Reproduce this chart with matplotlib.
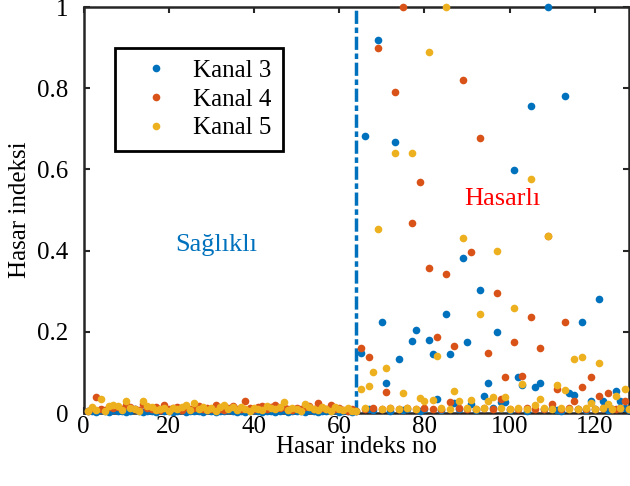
import numpy as np
import matplotlib
matplotlib.use("Agg")
import matplotlib.pyplot as plt

plt.rcParams["font.family"] = ["Liberation Serif", "DejaVu Serif"]
plt.rcParams["lines.scale_dashes"] = False

# hasar indeksleri, kanal basina 128 olcum (1..64 saglikli, 65..128 hasarli)
index_no = np.arange(1, 129)

kanal3 = [
    0.004, 0.006, 0.003, 0.008, 0.005, 0.002, 0.007, 0.004, 0.006, 0.003, 0.005, 0.009, 0.004, 0.002, 0.006, 0.005,
    0.003, 0.007, 0.004, 0.006, 0.002, 0.005, 0.008, 0.003, 0.004, 0.006, 0.005, 0.002, 0.007, 0.004, 0.003, 0.006,
    0.005, 0.008, 0.004, 0.003, 0.006, 0.002, 0.005, 0.007, 0.004, 0.003, 0.006, 0.005, 0.002, 0.004, 0.007, 0.003,
    0.005, 0.006, 0.004, 0.002, 0.008, 0.005, 0.003, 0.006, 0.004, 0.005, 0.007, 0.003, 0.004, 0.006, 0.002, 0.005,
    0.147, 0.682, 0.010, 0.008, 0.918, 0.225, 0.073, 0.006, 0.668, 0.132, 0.008, 0.010, 0.177, 0.204, 0.006, 0.009,
    0.181, 0.146, 0.035, 0.007, 0.245, 0.145, 0.025, 0.010, 0.381, 0.175, 0.023, 0.008, 0.302, 0.043, 0.073, 0.013,
    0.200, 0.028, 0.028, 0.008, 0.598, 0.089, 0.068, 0.006, 0.755, 0.063, 0.075, 0.009, 1.000, 0.012, 0.008, 0.006,
    0.780, 0.049, 0.044, 0.010, 0.225, 0.007, 0.030, 0.009, 0.282, 0.030, 0.008, 0.010, 0.055, 0.030, 0.012, 0.008,
]
kanal4 = [
    0.006, 0.012, 0.040, 0.010, 0.008, 0.014, 0.012, 0.016, 0.010, 0.020, 0.015, 0.010, 0.008, 0.022, 0.012, 0.010,
    0.014, 0.008, 0.020, 0.010, 0.012, 0.016, 0.008, 0.015, 0.010, 0.012, 0.017, 0.009, 0.012, 0.010, 0.020, 0.011,
    0.008, 0.012, 0.018, 0.010, 0.009, 0.030, 0.012, 0.010, 0.014, 0.018, 0.010, 0.016, 0.020, 0.012, 0.015, 0.010,
    0.008, 0.012, 0.010, 0.014, 0.018, 0.010, 0.025, 0.012, 0.010, 0.020, 0.009, 0.012, 0.008, 0.005, 0.010, 0.006,
    0.159, 0.010, 0.139, 0.012, 0.900, 0.010, 0.051, 0.012, 0.790, 0.011, 1.000, 0.012, 0.468, 0.010, 0.569, 0.012,
    0.357, 0.011, 0.188, 0.010, 0.342, 0.027, 0.165, 0.012, 0.820, 0.011, 0.396, 0.010, 0.677, 0.012, 0.149, 0.010,
    0.295, 0.035, 0.089, 0.011, 0.175, 0.010, 0.091, 0.012, 0.237, 0.010, 0.160, 0.011, 0.437, 0.022, 0.060, 0.010,
    0.225, 0.012, 0.030, 0.010, 0.064, 0.011, 0.088, 0.010, 0.042, 0.012, 0.050, 0.010, 0.011, 0.012, 0.030, 0.010,
]
kanal5 = [
    0.005, 0.015, 0.008, 0.034, 0.006, 0.018, 0.020, 0.018, 0.008, 0.030, 0.012, 0.010, 0.006, 0.030, 0.018, 0.016,
    0.008, 0.010, 0.012, 0.006, 0.012, 0.010, 0.014, 0.020, 0.008, 0.025, 0.010, 0.016, 0.008, 0.012, 0.006, 0.014,
    0.020, 0.010, 0.014, 0.008, 0.016, 0.010, 0.006, 0.012, 0.010, 0.008, 0.018, 0.012, 0.010, 0.014, 0.027, 0.008,
    0.012, 0.010, 0.006, 0.022, 0.015, 0.010, 0.008, 0.015, 0.010, 0.006, 0.015, 0.010, 0.008, 0.012, 0.006, 0.005,
    0.059, 0.012, 0.066, 0.100, 0.453, 0.010, 0.111, 0.013, 0.640, 0.011, 0.049, 0.012, 0.640, 0.010, 0.038, 0.030,
    0.890, 0.032, 0.140, 0.012, 1.000, 0.010, 0.054, 0.029, 0.430, 0.012, 0.032, 0.011, 0.245, 0.013, 0.030, 0.040,
    0.400, 0.012, 0.040, 0.010, 0.259, 0.013, 0.072, 0.011, 0.577, 0.020, 0.035, 0.012, 0.435, 0.010, 0.069, 0.013,
    0.056, 0.011, 0.132, 0.010, 0.139, 0.012, 0.025, 0.011, 0.123, 0.013, 0.023, 0.010, 0.042, 0.012, 0.059, 0.011,
]

series_labels = ["Kanal 3", "Kanal 4", "Kanal 5"]
series_colors = ["#0072bd", "#d95319", "#edb120"]
boundary = 64

fig = plt.figure(figsize=(6.3, 4.86), dpi=100)
ax = fig.add_axes([83.5 / 630, 73 / 486, 545.5 / 630, 406 / 486])

for values, label, color in zip([kanal3, kanal4, kanal5], series_labels, series_colors):
    ax.plot(index_no, values, linestyle="none", marker="o", markersize=5.5,
            markeredgewidth=0, color=color, label=label, clip_on=False, zorder=3)

# saglikli / hasarli siniri
ax.axvline(boundary, color="#0072bd", linewidth=2.5, dashes=(9.5, 2.6, 4.0, 2.6), zorder=2)

ax.text(21.5, 0.415, "Sağlıklı", color="#0072bd", fontsize=19, ha="left", va="center")
ax.text(89.3, 0.526, "Hasarlı", color="red", fontsize=19, ha="left", va="center")

ax.set_xlim(0, 128)
ax.set_ylim(0, 1)
ax.set_xticks([0, 20, 40, 60, 80, 100, 120])
ax.set_yticks([0, 0.2, 0.4, 0.6, 0.8, 1])
ax.set_yticklabels(["0", "0.2", "0.4", "0.6", "0.8", "1"])
ax.tick_params(direction="in", top=True, right=True, length=4, width=1.5,
               labelsize=18, color="#262626")
ax.tick_params(axis="x", pad=2)
ax.tick_params(axis="y", pad=11)
for sp in ax.spines.values():
    sp.set_linewidth(1.8)
    sp.set_color("#262626")

ax.set_xlabel("Hasar indeks no", fontsize=18, labelpad=-1)
ax.set_ylabel("Hasar indeksi", fontsize=18, labelpad=4)

leg = ax.legend(loc="upper left", bbox_to_anchor=(0.057, 0.899), fontsize=18,
                frameon=True, fancybox=False, framealpha=1, edgecolor="black",
                handlelength=2.4, handletextpad=0.3, labelspacing=0.25,
                borderpad=0.45, borderaxespad=0)
leg.get_frame().set_linewidth(2)

fig.savefig("out.png", dpi=100)
